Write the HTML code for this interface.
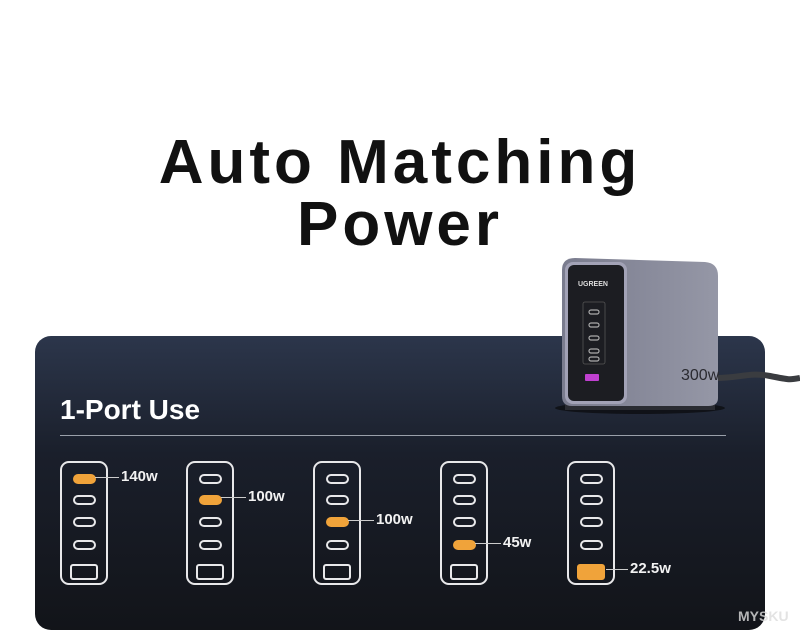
<!DOCTYPE html><html><head><style>
body{margin:0;width:800px;height:638px;background:#fff;position:relative;overflow:hidden;font-family:"Liberation Sans",sans-serif}
.t{position:absolute;left:0;width:800px;text-align:center;font-weight:bold;font-size:62px;color:#111;letter-spacing:4px;line-height:62px}
.panel{position:absolute;left:35px;top:336px;width:730px;height:294px;border-radius:16px;background:linear-gradient(180deg,#2c364b 0%,#1a1f2b 40%,#121419 100%)}
.dev{position:absolute;top:461px;width:44px;height:120px;border:2px solid #e8e8ea;border-radius:9px}
.c{position:absolute;left:11px;width:19px;height:6px;border:2px solid #e8e8ea;border-radius:5px}
.c.o{background:#f0a33a;border-color:#f0a33a}
.a{position:absolute;left:8px;top:101px;width:24px;height:12px;border:2px solid #e8e8ea;border-radius:3px}
.a.o{background:#f0a33a;border-color:#f0a33a}
.lab{position:absolute;color:#f2f2f2;font-weight:bold;font-size:15px}
.ln{position:absolute;height:1px;background:#ccc}
</style></head><body>
<div class="t" style="top:132px">Auto Matching</div>
<div class="t" style="top:194px">Power</div>
<div class="panel"></div>
<div style="position:absolute;left:60px;top:394px;color:#fff;font-weight:bold;font-size:28px">1-Port Use</div>
<div style="position:absolute;left:60px;top:435px;width:666px;height:1px;background:#9aa0aa"></div>

<div class="dev" style="left:60px"><div class="c o" style="top:11px"></div><div class="c" style="top:32px"></div><div class="c" style="top:54px"></div><div class="c" style="top:77px"></div><div class="a"></div></div>
<div class="ln" style="left:95px;top:477px;width:24px"></div><div class="lab" style="left:121px;top:468px">140w</div>

<div class="dev" style="left:186px"><div class="c" style="top:11px"></div><div class="c o" style="top:32px"></div><div class="c" style="top:54px"></div><div class="c" style="top:77px"></div><div class="a"></div></div>
<div class="ln" style="left:221px;top:497px;width:25px"></div><div class="lab" style="left:248px;top:488px">100w</div>

<div class="dev" style="left:313px"><div class="c" style="top:11px"></div><div class="c" style="top:32px"></div><div class="c o" style="top:54px"></div><div class="c" style="top:77px"></div><div class="a"></div></div>
<div class="ln" style="left:348px;top:520px;width:26px"></div><div class="lab" style="left:376px;top:511px">100w</div>

<div class="dev" style="left:440px"><div class="c" style="top:11px"></div><div class="c" style="top:32px"></div><div class="c" style="top:54px"></div><div class="c o" style="top:77px"></div><div class="a"></div></div>
<div class="ln" style="left:475px;top:543px;width:26px"></div><div class="lab" style="left:503px;top:534px">45w</div>

<div class="dev" style="left:567px"><div class="c" style="top:11px"></div><div class="c" style="top:32px"></div><div class="c" style="top:54px"></div><div class="c" style="top:77px"></div><div class="a o"></div></div>
<div class="ln" style="left:606px;top:569px;width:22px"></div><div class="lab" style="left:630px;top:560px">22.5w</div>

<svg style="position:absolute;left:0;top:0" width="800" height="638">
<path d="M716 378 C740 378 750 372 770 376 S790 380 800 378" stroke="#3a3c40" stroke-width="6" fill="none"/>
<ellipse cx="640" cy="408" rx="85" ry="6" fill="#0a0a0c" opacity=".7"/>
<rect x="565" y="404" width="150" height="6" fill="#2a2c32"/>
<defs><linearGradient id="g" x1="0" x2="1"><stop offset="0" stop-color="#7a7c8e"/><stop offset="1" stop-color="#9597a6"/></linearGradient></defs>
<path d="M575 258 L705 262 Q718 263 718 276 L718 398 Q718 406 708 406 L572 406 Q562 406 562 396 L562 270 Q562 258 575 258Z" fill="url(#g)"/>
<rect x="565" y="262" width="62" height="142" rx="8" fill="#a2a2b6"/>
<rect x="568" y="265" width="56" height="136" rx="6" fill="#1c1d22"/>
<text x="578" y="286" fill="#ddd" font-size="7" font-family="Liberation Sans" font-weight="bold">UGREEN</text>
<rect x="583" y="302" width="22" height="62" rx="2" fill="none" stroke="#555" stroke-width=".8"/>
<g fill="none" stroke="#aaa" stroke-width="1.2"><rect x="589" y="310" width="10" height="4" rx="2"/><rect x="589" y="323" width="10" height="4" rx="2"/><rect x="589" y="336" width="10" height="4" rx="2"/><rect x="589" y="349" width="10" height="4" rx="2"/><rect x="589" y="357" width="10" height="4" rx="2"/></g>
<rect x="585" y="374" width="14" height="7" rx="1" fill="#c040d0"/>
<text x="681" y="380" fill="#2a2a30" font-size="16" font-family="Liberation Sans">300w</text>
</svg>
<div style="position:absolute;left:738px;top:608px;color:#ddd;font-weight:bold;font-size:14px;opacity:.8">MYSKU</div>
</body></html>
